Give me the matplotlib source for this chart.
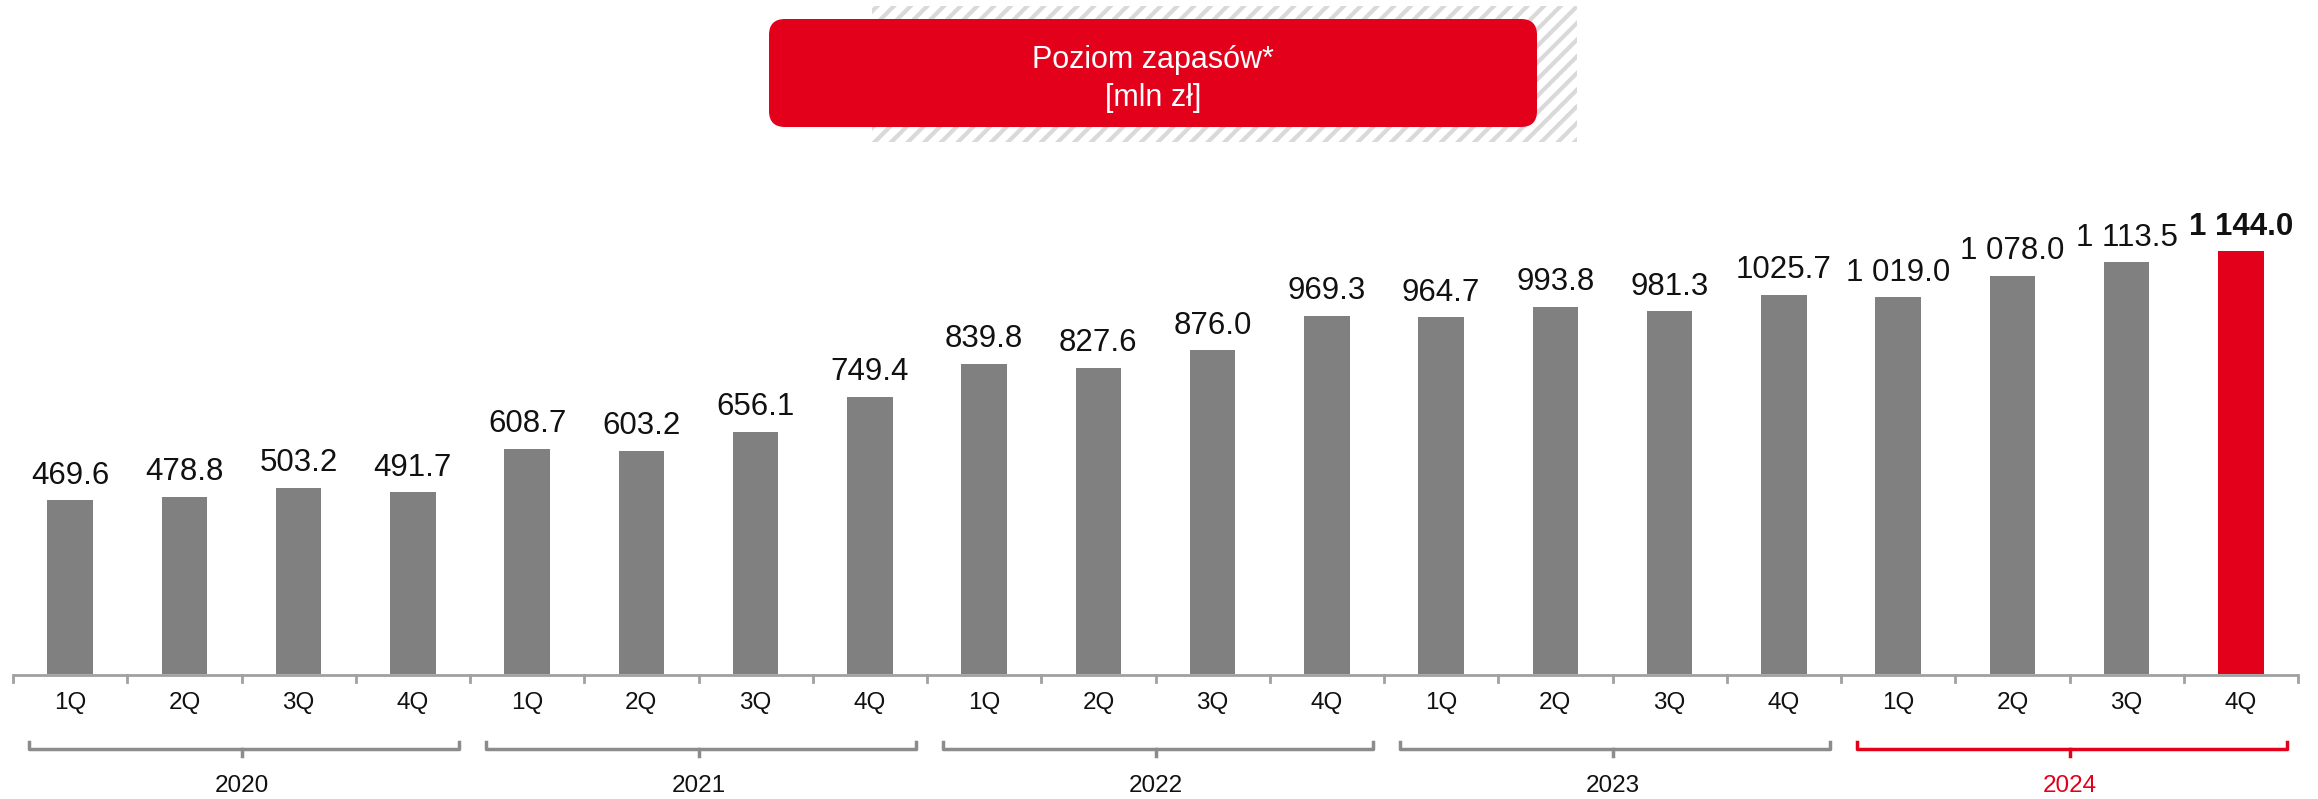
import matplotlib
matplotlib.use("Agg")
import matplotlib.pyplot as plt
from matplotlib.patches import Rectangle, FancyBboxPatch
from matplotlib.transforms import blended_transform_factory, IdentityTransform

plt.rcParams['font.family'] = ['Liberation Sans', 'DejaVu Sans']
plt.rcParams['hatch.linewidth'] = 3.0

quarters = ['1Q', '2Q', '3Q', '4Q'] * 5
years = ['2020', '2021', '2022', '2023', '2024']
values = [469.6, 478.8, 503.2, 491.7,
          608.7, 603.2, 656.1, 749.4,
          839.8, 827.6, 876.0, 969.3,
          964.7, 993.8, 981.3, 1025.7,
          1019.0, 1078.0, 1113.5, 1144.0]
labels = ['469.6', '478.8', '503.2', '491.7',
          '608.7', '603.2', '656.1', '749.4',
          '839.8', '827.6', '876.0', '969.3',
          '964.7', '993.8', '981.3', '1025.7',
          '1 019.0', '1 078.0', '1 113.5', '1 144.0']
title = 'Poziom zapasów*\n[mln zł]'

GRAY = '#808080'
RED = '#E2001A'
AXC = '#A0A0A0'

W, H = 2318, 799
fig = plt.figure(figsize=(W / 100, H / 100), dpi=100)
ax = fig.add_axes([13 / W, 125 / H, (2298 - 13) / W, 674 / H])

x = list(range(len(values)))
colors = [GRAY] * (len(values) - 1) + [RED]
ax.bar(x, values, width=0.40, color=colors)
ax.set_xlim(-0.5, len(values) - 0.5)
ax.set_ylim(0, 674 / 0.3696)
ax.axis('off')

# value labels
for i, (v, lab) in enumerate(zip(values, labels)):
    last = i == len(values) - 1
    ax.annotate(lab, (i, v), xytext=(0, 12), textcoords='offset points',
                ha='center', va='baseline', fontsize=22.5,
                fontweight='bold' if last else 'normal', color='#111111')

# x axis line with separator ticks
tr = blended_transform_factory(ax.transData, fig.transFigure)
def fy(px):
    return 1 - px / H

ax.plot([-0.5, len(values) - 0.5], [fy(675), fy(675)], transform=tr,
        color=AXC, lw=2, clip_on=False, solid_capstyle='butt')
for b in range(len(values) + 1):
    ax.plot([b - 0.5, b - 0.5], [fy(675), fy(682)], transform=tr,
            color=AXC, lw=2, clip_on=False)

# quarter labels
for i, q in enumerate(quarters):
    ax.text(i, fy(703), q, transform=tr, ha='center', va='center',
            fontsize=17.5, color='#111111')

# year brackets
for k, yr in enumerate(years):
    c = RED if yr == '2024' else '#8C8C8C'
    x0 = 4 * k - 0.5 + 0.14
    x1 = 4 * k + 3.5 - 0.10
    xm = 4 * k + 1.5
    ax.plot([x0, x0, x1, x1], [fy(742), fy(749), fy(749), fy(742)],
            transform=tr, color=c, lw=2.5, clip_on=False)
    ax.plot([xm, xm], [fy(749), fy(756)], transform=tr, color=c, lw=2.5,
            clip_on=False)
    ax.text(xm, fy(786), yr, transform=tr, ha='center', va='center',
            fontsize=17.5, color=RED if yr == '2024' else '#111111')

# title box with hatched shadow
hatch = Rectangle((872, H - 142), 1577 - 872, 136, transform=IdentityTransform(),
                  facecolor='white', edgecolor='#D9D9D9', hatch='//', lw=0)
fig.patches.append(hatch)
box = FancyBboxPatch((769, H - 127), 1537 - 769, 108,
                     boxstyle='round,pad=0,rounding_size=16',
                     transform=IdentityTransform(), facecolor=RED,
                     edgecolor='none')
fig.patches.append(box)
fig.text((769 + 1537) / 2 / W, fy(79), title, ha='center', va='center',
         fontsize=22, color='white', linespacing=1.35)

fig.savefig('out.png', dpi=100)
